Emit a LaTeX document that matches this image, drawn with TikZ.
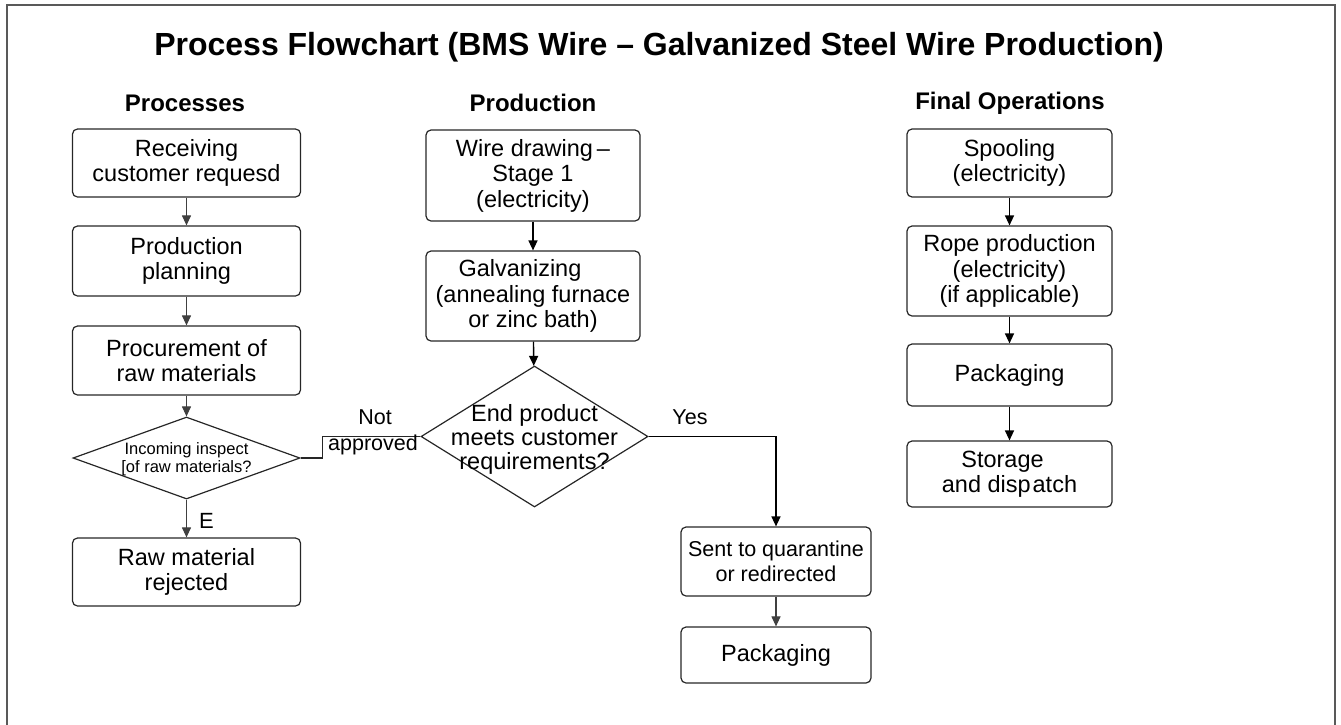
\documentclass[tikz,border=0pt]{standalone}
\usepackage{fontspec}
\setmainfont{Liberation Sans}
\usetikzlibrary{shapes.geometric,arrows.meta}
\begin{document}
\begin{tikzpicture}[x=1pt,y=-1pt,
  box/.style={draw=black!85, line width=1.2pt, rounded corners=5pt, inner sep=2pt, align=center,
    font=\fontsize{23.5}{25.5}\selectfont},
  dia/.style={diamond, draw=black!85, line width=1.2pt, inner sep=0pt},
  txt/.style={align=center, inner sep=0pt},
  arr/.style={-{Triangle[length=10pt,width=9pt]}, line width=1.4pt, draw=black},
  garr/.style={-{Triangle[length=10pt,width=9pt]}, line width=1.1pt, draw=black!75},
  line/.style={line width=1.2pt, draw=black!85},
  hdr/.style={font=\bfseries\fontsize{24}{28}\selectfont, inner sep=0pt}
]
\useasboundingbox (0,0) rectangle (1341,724);
\draw[line width=2pt, draw=black!65] (7,730) -- (7,5) -- (1335,5) -- (1335,730);

\node[font=\bfseries\fontsize{32}{36}\selectfont, inner sep=0pt] (title) at (659,47)
  {Process Flowchart (BMS Wire – Galvanized Steel Wire Production)};
\node[hdr] (h1) at (185,103) {Processes};
\node[hdr] (h2) at (533,103) {Production};
\node[hdr] (h3) at (1010,103) {Final Operations};

% left column
\node[box, minimum width=228pt, minimum height=68pt] (r1) at (186.5,163) {Receiving\\customer requesd};
\node[box, minimum width=228pt, minimum height=70pt] (r2) at (186.5,261) {Production\\planning};
\node[box, minimum width=228pt, minimum height=69pt] (r3) at (186.5,360.5) {Procurement of\\raw materials};
\node[dia, minimum width=227pt, minimum height=82pt] (d1) at (186.5,458) {};
\node[txt, font=\fontsize{16.5}{18.5}\selectfont] (d1t) at (186.5,459) {Incoming inspect\\{[}of raw materials?};
\node[box, minimum width=228pt, minimum height=68pt] (r4) at (186.5,572) {Raw material\\rejected};

% centre column
\node[box, minimum width=214pt, minimum height=91pt] (c1) at (533,175.5) {Wire drawing\,–\\Stage 1\\(electricity)};
\node[box, minimum width=214pt, minimum height=90pt] (c2) at (533,296) {Galvanizing\hspace*{26pt}\\(annealing furnace\\or zinc bath)};
\node[dia, minimum width=227pt, minimum height=141pt] (d2) at (534.5,436.5) {};
\node[txt, font=\fontsize{23.5}{24}\selectfont] (d2t) at (534.5,439) {End product\\meets customer\\requirements?};
\node[box, minimum width=190pt, minimum height=69pt, font=\fontsize{21.5}{25}\selectfont] (q1) at (776,561.5) {Sent to quarantine\\or redirected};
\node[box, minimum width=190pt, minimum height=56pt] (q2) at (776,655) {Packaging};

% right column
\node[box, minimum width=205pt, minimum height=68pt] (f1) at (1009.5,163) {Spooling\\(electricity)};
\node[box, minimum width=205pt, minimum height=90pt] (f2) at (1009.5,271) {Rope production\\(electricity)\\(if applicable)};
\node[box, minimum width=205pt, minimum height=62pt] (f3) at (1009.5,375) {Packaging};
\node[box, minimum width=205pt, minimum height=66pt] (f4) at (1009.5,474) {Storage\hspace*{14pt}\\and disp\hspace{2pt}atch};

% connectors
\draw[garr] (r1) -- (r2);
\draw[garr] (r2) -- (r3);
\draw[garr] (r3) -- (d1);
\draw[garr] (d1) -- node[right, font=\fontsize{22}{24}\selectfont, inner sep=0pt, xshift=12pt, yshift=-2pt] (elab) {E} (r4);
\draw[line] (d1.east) -- ++(22,0) |- (d2.west);
\node[txt, font=\fontsize{21.5}{24}\selectfont] (notl) at (375,417) {Not};
\node[txt, font=\fontsize{21.5}{24}\selectfont] (appl) at (373,445) {approved};

\draw[arr] (c1) -- (c2);
\draw[arr] (c2) -- (d2);
\draw[arr] (d2.east) -| (q1.north);
\node[txt, font=\fontsize{21.5}{24}\selectfont] (yesl) at (690,417) {Yes};
\draw[garr] (q1) -- (q2);

\draw[arr] (f1) -- (f2);
\draw[arr] (f2) -- (f3);
\draw[arr] (f3) -- (f4);
\end{tikzpicture}
\end{document}
